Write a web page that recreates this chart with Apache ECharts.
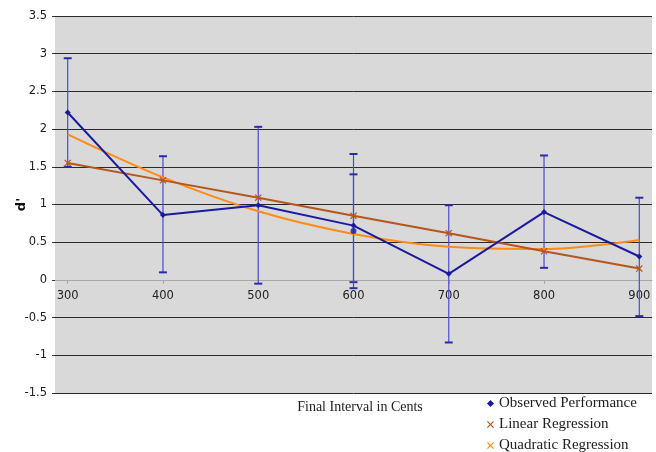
<!DOCTYPE html>
<html>
<head>
<meta charset="utf-8">
<script src="https://cdn.jsdelivr.net/npm/echarts@6/dist/echarts.min.js"></script>
<style>html,body{margin:0;padding:0;background:#fff;}#c{width:656px;height:452px;}</style>
</head>
<body>
<div id="c"></div>
<script>
// Data
const categories = [300, 400, 500, 600, 700, 800, 900];
const observed   = [2.22, 0.86, 0.99, 0.72, 0.08, 0.90, 0.31];
const obsLow     = [1.50, 0.10, -0.05, -0.03, -0.83, 0.16, -0.48];
const obsHigh    = [2.94, 1.64, 2.03, 1.67, 0.99, 1.65, 1.09];
const linear     = [1.55, 1.32, 1.09, 0.85, 0.62, 0.38, 0.15];
const quadratic  = [1.93, 1.36, 0.91, 0.61, 0.44, 0.41, 0.53];
// extra observed point at 600 with its own error bar
const extraX     = [600];
const extraVal   = [0.65];
const extraLow   = [-0.11];
const extraHigh  = [1.40];
const yTicks     = [-1.5, -1, -0.5, 0, 0.5, 1, 1.5, 2, 2.5, 3, 3.5];

const xMark = 'path://M0,1.2L1.2,0L5,3.8L8.8,0L10,1.2L6.2,5L10,8.8L8.8,10L5,6.2L1.2,10L0,8.8L3.8,5Z';

const gridTop = 16, gridBottom = 59, H = 452;
const yMin = yTicks[0], yMax = yTicks[yTicks.length - 1];
const plotH = H - gridTop - gridBottom;
// distance from bottom of plot to the zero line
const zeroOffset = -((0 - yMin) / (yMax - yMin)) * plotH;

const chart = echarts.init(document.getElementById('c'));

function errItem(params, api) {
  const x = api.value(0), lo = api.value(1), hi = api.value(2);
  const pt = api.coord([x, hi]);
  const pb = api.coord([x, lo]);
  const w = 4;
  return {
    type: 'group',
    children: [
      {type: 'line', shape: {x1: pt[0], y1: pt[1], x2: pb[0], y2: pb[1]}, style: {stroke: '#4b4bcf', lineWidth: 1.2}},
      {type: 'line', shape: {x1: pt[0] - w, y1: pt[1], x2: pt[0] + w, y2: pt[1]}, style: {stroke: '#2a2aae', lineWidth: 2}},
      {type: 'line', shape: {x1: pb[0] - w, y1: pb[1], x2: pb[0] + w, y2: pb[1]}, style: {stroke: '#2a2aae', lineWidth: 2}}
    ]
  };
}

const pad = (categories[1] - categories[0]) * 0.1333;

chart.setOption({
  animation: false,
  grid: {left: 55, right: 4, top: gridTop, bottom: gridBottom, show: true, backgroundColor: '#d9d9d9', borderWidth: 0,
         containLabel: false, outerBoundsMode: 'none'},
  legend: {
    orient: 'vertical',
    left: 487, top: 395, height: 80, padding: 0,
    itemWidth: 7, itemHeight: 7, itemGap: 4,
    textStyle: {fontFamily: 'Liberation Serif', fontSize: 15, color: '#222', lineHeight: 17},
    data: [
      {name: 'Observed Performance', icon: 'diamond', itemStyle: {color: '#1a1aa0'}},
      {name: 'Linear Regression', icon: xMark, itemStyle: {color: '#b5561c'}},
      {name: 'Quadratic Regression', icon: xMark, itemStyle: {color: '#ff8a14'}}
    ]
  },
  xAxis: {
    type: 'value',
    position: 'bottom',
    offset: zeroOffset,
    min: v => v.min - pad,
    max: v => v.max + pad,
    splitLine: {show: false},
    axisLine: {onZero: false, lineStyle: {color: '#a8a8a8', width: 1}},
    axisTick: {show: true, length: 4, lineStyle: {color: '#a8a8a8'}, customValues: categories},
    axisLabel: {customValues: categories, margin: 10, fontFamily: 'DejaVu Sans', fontSize: 11.5, color: '#222'},
    name: 'Final Interval in Cents',
    nameLocation: 'middle',
    nameGap: 120,
    nameMoveOverlap: false,
    nameTextStyle: {fontFamily: 'Liberation Serif', fontSize: 14, color: '#222', padding: [0, 0, 0, 13]}
  },
  yAxis: {
    type: 'value',
    min: yMin, max: yMax, interval: 0.5,
    axisLine: {show: false},
    axisTick: {show: true, length: 3, lineStyle: {color: '#333'}},
    axisLabel: {margin: 8, fontFamily: 'DejaVu Sans', fontSize: 11.5, color: '#222'},
    splitLine: {show: true, lineStyle: {color: yTicks.map(t => t === 0 ? '#a8a8a8' : '#2a2a2a'), width: 1}},
    name: "d'",
    nameLocation: 'middle',
    nameGap: 27,
    nameMoveOverlap: false,
    nameTextStyle: {fontFamily: 'DejaVu Sans', fontSize: 13, fontWeight: 'bold', color: '#111'}
  },
  series: [
    {
      type: 'custom', name: 'errObs', z: 1,
      renderItem: errItem,
      encode: {x: 0, y: [1, 2]},
      data: categories.map((c, i) => [c, obsLow[i], obsHigh[i]])
    },
    {
      type: 'custom', name: 'errExtra', z: 1,
      renderItem: errItem,
      encode: {x: 0, y: [1, 2]},
      data: extraX.map((c, i) => [c, extraLow[i], extraHigh[i]])
    },
    {
      type: 'line', name: 'Quadratic Regression', z: 3,
      data: categories.map((c, i) => [c, quadratic[i]]),
      smooth: 0.35, showSymbol: false, symbol: 'none',
      lineStyle: {color: '#ff8a14', width: 2},
      itemStyle: {color: '#ff8a14'}
    },
    {
      type: 'line', name: 'Linear Regression', z: 4,
      data: categories.map((c, i) => [c, linear[i]]),
      symbol: xMark, symbolSize: 7,
      lineStyle: {color: '#b5561c', width: 2},
      itemStyle: {color: '#b5561c'}
    },
    {
      type: 'line', name: 'Observed Performance', z: 5,
      data: categories.map((c, i) => [c, observed[i]]),
      symbol: 'diamond', symbolSize: 6,
      lineStyle: {color: '#1a1aa0', width: 2},
      itemStyle: {color: '#1a1aa0'}
    },
    {
      type: 'scatter', name: 'extraObs', z: 5,
      data: extraX.map((c, i) => [c, extraVal[i]]),
      symbol: 'circle', symbolSize: 6,
      itemStyle: {color: '#1a1aa0'}
    }
  ]
});
</script>
</body>
</html>
